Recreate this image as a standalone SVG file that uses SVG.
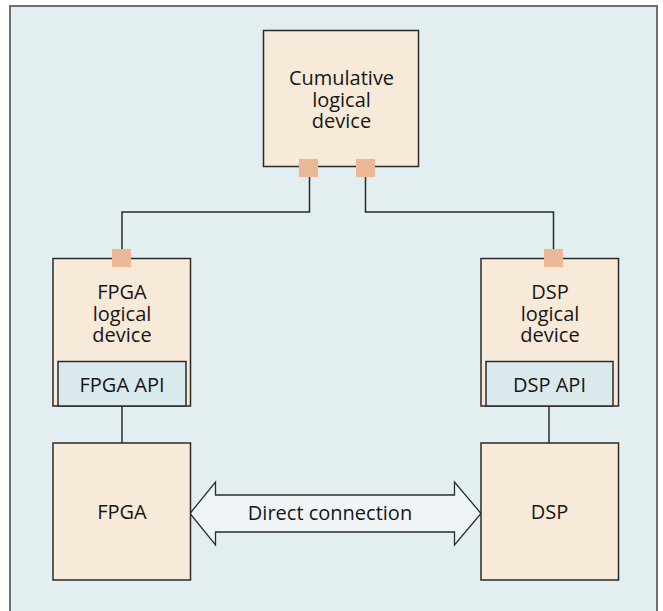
<svg xmlns="http://www.w3.org/2000/svg" width="663" height="611" viewBox="0 0 663 611">
  <style>
    .frame { fill: #e2eef0; stroke: #6d7072; stroke-width: 2; }
    .box { fill: #f8ead8; stroke: #2b2b2b; stroke-width: 1.5; }
    .api { fill: #d9e9ec; stroke: #2b2b2b; stroke-width: 1.5; }
    .port { fill: #ebb897; }
    .wire { fill: none; stroke: #2b2b2b; stroke-width: 1.5; }
    .arrow { fill: #eff5f7; stroke: #2b2b2b; stroke-width: 1.3; stroke-linejoin: miter; }
    .lbl { font-family: "Open Sans", "Noto Sans", "Liberation Sans", sans-serif; font-size: 20px; fill: #161616; text-anchor: middle; }
  </style>

  <!-- background panel -->
  <rect class="frame" x="10" y="6" width="647" height="620"/>

  <!-- connectors -->
  <g id="connectors">
    <polyline class="wire" points="309.5,176 309.5,212 122,212 122,250"/>
    <polyline class="wire" points="365.5,176 365.5,212 553.5,212 553.5,250"/>
    <line class="wire" x1="122" y1="406" x2="122" y2="443"/>
    <line class="wire" x1="549" y1="406" x2="549" y2="443"/>
    <g id="direct-connection">
      <polygon class="arrow" points="190,513.5 215.5,482 215.5,495 454.5,495 454.5,482 481,513.5 454.5,545 454.5,532 215.5,532 215.5,545"/>
      <text class="lbl" x="330" y="520">Direct connection</text>
    </g>
  </g>

  <!-- top node -->
  <g id="cumulative">
    <rect class="box" x="263.5" y="30.5" width="155" height="136"/>
    <text class="lbl" x="341.5" y="85">Cumulative</text>
    <text class="lbl" x="341.5" y="106.5">logical</text>
    <text class="lbl" x="341.5" y="128">device</text>
    <rect class="port" x="299" y="159" width="19" height="18"/>
    <rect class="port" x="356" y="159" width="19" height="18"/>
  </g>

  <!-- FPGA logical device -->
  <g id="fpga-logical">
    <rect class="box" x="53" y="258.5" width="137.5" height="147.5"/>
    <rect class="port" x="112" y="249" width="19" height="18"/>
    <text class="lbl" x="122" y="299">FPGA</text>
    <text class="lbl" x="122" y="320.5">logical</text>
    <text class="lbl" x="122" y="342">device</text>
    <rect class="api" x="58" y="361.5" width="128" height="44.5"/>
    <text class="lbl" x="122" y="392">FPGA API</text>
  </g>

  <!-- DSP logical device -->
  <g id="dsp-logical">
    <rect class="box" x="481" y="258.5" width="137.5" height="147.5"/>
    <rect class="port" x="544" y="249" width="19" height="18"/>
    <text class="lbl" x="550" y="299">DSP</text>
    <text class="lbl" x="550" y="320.5">logical</text>
    <text class="lbl" x="550" y="342">device</text>
    <rect class="api" x="486" y="361.5" width="127" height="44.5"/>
    <text class="lbl" x="549.5" y="392">DSP API</text>
  </g>

  <!-- hardware -->
  <g id="fpga">
    <rect class="box" x="53" y="443" width="137.5" height="137"/>
    <text class="lbl" x="122" y="519">FPGA</text>
  </g>
  <g id="dsp">
    <rect class="box" x="481" y="443" width="137.5" height="137"/>
    <text class="lbl" x="549.5" y="519">DSP</text>
  </g>
</svg>
